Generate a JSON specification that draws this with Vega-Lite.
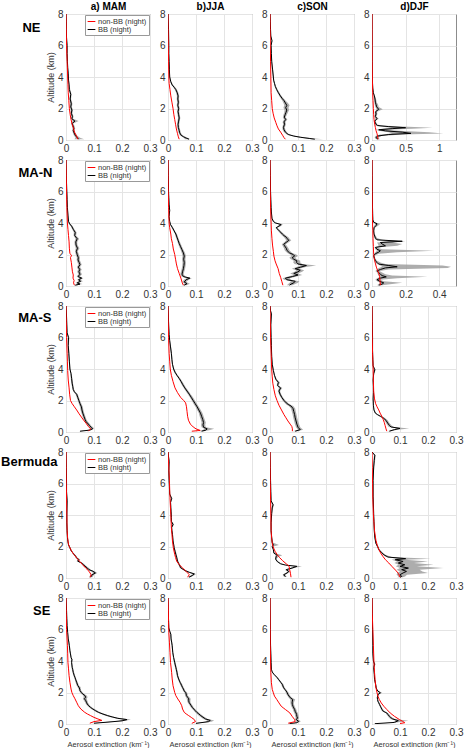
{
"$schema":"https://vega.github.io/schema/vega-lite/v6.json",
"background":"white",
"padding":{"left":0,"top":0,"right":0,"bottom":0},
"config":{
 "font":"Liberation Sans",
 "view":{"stroke":"#8c8c8c","strokeWidth":1},
 "axis":{"labelFontSize":10,"labelColor":"#333333","ticks":false,"domain":false,"gridColor":"#e4e4e4","gridWidth":1,"labelPadding":3,"titleFontWeight":"normal","titleColor":"#333333"},
 "axisX":{"labelFlush":false,"titleFontSize":7.5,"titlePadding":3},
 "axisY":{"titleFontSize":9,"titlePadding":2},
 "legend":{"orient":"top-right","offset":1,"symbolType":"stroke","symbolSize":60,"symbolStrokeWidth":1,"labelFontSize":7.5,"labelColor":"#333333","strokeColor":"#999999","fillColor":"#ffffff","padding":2,"rowPadding":0,"labelOffset":2,"labelLimit":120}
},
"bounds":"flush",
"columns":4,
"spacing":{"row":20,"column":18},
"resolve":{"scale":{"color":"independent"}},
"concat":[
 {"width":84,"height":126,
  "title":{"text":"NE","orient":"left","anchor":"end","frame":"group","angle":0,"align":"left","baseline":"top","fontSize":13,"fontWeight":"bold","color":"#000000","offset":6,"dy":8},
  "resolve":{"axis":{"x":"independent"}},
  "data":{"values":[
{"s":"B","a":0.05,"v":0.045,"l":0.03,"h":0.065},{"s":"B","a":0.15,"v":0.04,"l":0.034,"h":0.05},{"s":"B","a":0.3,"v":0.033,"l":0.028,"h":0.038},{"s":"B","a":0.45,"v":0.029,"l":0.025,"h":0.034},{"s":"B","a":0.6,"v":0.026,"l":0.022,"h":0.03},{"s":"B","a":0.75,"v":0.028,"l":0.023,"h":0.033},{"s":"B","a":0.9,"v":0.025,"l":0.021,"h":0.03},{"s":"B","a":1.05,"v":0.022,"l":0.018,"h":0.026},{"s":"B","a":1.2,"v":0.032,"l":0.024,"h":0.045},{"s":"B","a":1.35,"v":0.021,"l":0.017,"h":0.025},{"s":"B","a":1.5,"v":0.023,"l":0.019,"h":0.027},{"s":"B","a":1.7,"v":0.019,"l":0.016,"h":0.023},{"s":"B","a":1.9,"v":0.021,"l":0.017,"h":0.025},{"s":"B","a":2.1,"v":0.017,"l":0.014,"h":0.021},{"s":"B","a":2.3,"v":0.019,"l":0.015,"h":0.023},{"s":"B","a":2.6,"v":0.015,"l":0.012,"h":0.018},{"s":"B","a":2.9,"v":0.017,"l":0.014,"h":0.02},{"s":"B","a":3.2,"v":0.012,"l":0.01,"h":0.015},{"s":"B","a":3.5,"v":0.011,"l":0.009,"h":0.013},{"s":"B","a":3.8,"v":0.009,"l":0.007,"h":0.011},{"s":"B","a":4.2,"v":0.008,"l":0.006,"h":0.01},{"s":"B","a":4.6,"v":0.006,"l":0.005,"h":0.008},{"s":"B","a":5,"v":0.005,"l":0.004,"h":0.007},{"s":"B","a":5.5,"v":0.004,"l":0.003,"h":0.005},{"s":"B","a":6,"v":0.004,"l":0.003,"h":0.005},{"s":"B","a":6.5,"v":0.002,"l":0.001,"h":0.003},{"s":"B","a":7,"v":0.001,"l":0,"h":0.002},{"s":"B","a":7.5,"v":0.001,"l":0,"h":0.002},{"s":"B","a":8,"v":0,"l":0,"h":0.001},
{"s":"N","a":0.05,"v":0.042},{"s":"N","a":0.25,"v":0.038},{"s":"N","a":0.5,"v":0.03},{"s":"N","a":0.75,"v":0.027},{"s":"N","a":1,"v":0.022},{"s":"N","a":1.3,"v":0.018},{"s":"N","a":1.6,"v":0.015},{"s":"N","a":2,"v":0.012},{"s":"N","a":2.5,"v":0.01},{"s":"N","a":3,"v":0.008},{"s":"N","a":3.5,"v":0.007},{"s":"N","a":4,"v":0.006},{"s":"N","a":5,"v":0.004},{"s":"N","a":6,"v":0.002},{"s":"N","a":7,"v":0.001},{"s":"N","a":8,"v":0}
  ]},
  "encoding":{"y":{"field":"a","type":"quantitative","scale":{"domain":[0,8],"nice":false},"axis":{"tickCount":4,"title":"Altitude (km)"}}},
  "layer":[
   {"transform":[{"filter":"datum.s=='B'"}],"mark":{"type":"area","orient":"horizontal","color":"#999999","opacity":0.8,"clip":true},
    "encoding":{"x":{"field":"l","type":"quantitative","scale":{"domain":[0,0.3],"nice":false},"axis":{"tickCount":3,"format":"~g","title":null}},"x2":{"field":"h"}}},
   {"mark":{"type":"line","strokeWidth":1,"clip":true},
    "encoding":{"x":{"field":"v","type":"quantitative","scale":{"domain":[0,0.3],"nice":false},"axis":{"orient":"top","title":"a) MAM","labels":false,"grid":false,"titleFontSize":10,"titleFontWeight":"bold","titleColor":"#000000","titlePadding":3}},
     "color":{"field":"s","type":"nominal","scale":{"domain":["N","B"],"range":["#ff0000","#000000"]},"legend":{"title":null,"labelExpr":"datum.label=='N'?'non-BB (night)':'BB (night)'"}},
     "order":{"field":"a","type":"quantitative"}}}
  ]},
 {"width":84,"height":126,
  "resolve":{"axis":{"x":"independent"}},
  "data":{"values":[
{"s":"B","a":0.05,"v":0.075,"l":0.06,"h":0.08},{"s":"B","a":0.12,"v":0.065,"l":0.058,"h":0.072},{"s":"B","a":0.2,"v":0.056,"l":0.05,"h":0.062},{"s":"B","a":0.3,"v":0.047,"l":0.042,"h":0.052},{"s":"B","a":0.45,"v":0.042,"l":0.038,"h":0.046},{"s":"B","a":0.6,"v":0.04,"l":0.036,"h":0.044},{"s":"B","a":0.8,"v":0.037,"l":0.033,"h":0.041},{"s":"B","a":1,"v":0.036,"l":0.032,"h":0.04},{"s":"B","a":1.2,"v":0.038,"l":0.034,"h":0.042},{"s":"B","a":1.4,"v":0.04,"l":0.036,"h":0.044},{"s":"B","a":1.6,"v":0.038,"l":0.034,"h":0.042},{"s":"B","a":1.8,"v":0.036,"l":0.032,"h":0.04},{"s":"B","a":2,"v":0.038,"l":0.034,"h":0.042},{"s":"B","a":2.2,"v":0.035,"l":0.031,"h":0.039},{"s":"B","a":2.4,"v":0.037,"l":0.033,"h":0.041},{"s":"B","a":2.6,"v":0.035,"l":0.031,"h":0.039},{"s":"B","a":2.8,"v":0.036,"l":0.032,"h":0.04},{"s":"B","a":3,"v":0.033,"l":0.029,"h":0.037},{"s":"B","a":3.2,"v":0.028,"l":0.024,"h":0.032},{"s":"B","a":3.35,"v":0.022,"l":0.019,"h":0.026},{"s":"B","a":3.5,"v":0.015,"l":0.012,"h":0.018},{"s":"B","a":3.7,"v":0.01,"l":0.008,"h":0.012},{"s":"B","a":4,"v":0.006,"l":0.005,"h":0.008},{"s":"B","a":4.5,"v":0.005,"l":0.004,"h":0.006},{"s":"B","a":5,"v":0.004,"l":0.003,"h":0.005},{"s":"B","a":5.5,"v":0.003,"l":0.002,"h":0.004},{"s":"B","a":6,"v":0.003,"l":0.002,"h":0.004},{"s":"B","a":7,"v":0.002,"l":0.001,"h":0.003},{"s":"B","a":8,"v":0,"l":0,"h":0.001},
{"s":"N","a":0.05,"v":0.04},{"s":"N","a":0.2,"v":0.037},{"s":"N","a":0.4,"v":0.034},{"s":"N","a":0.7,"v":0.03},{"s":"N","a":1,"v":0.027},{"s":"N","a":1.3,"v":0.024},{"s":"N","a":1.6,"v":0.021},{"s":"N","a":2,"v":0.018},{"s":"N","a":2.4,"v":0.014},{"s":"N","a":2.8,"v":0.01},{"s":"N","a":3.2,"v":0.007},{"s":"N","a":3.6,"v":0.004},{"s":"N","a":4,"v":0.003},{"s":"N","a":5,"v":0.002},{"s":"N","a":6,"v":0.001},{"s":"N","a":8,"v":0}
  ]},
  "encoding":{"y":{"field":"a","type":"quantitative","scale":{"domain":[0,8],"nice":false},"axis":{"tickCount":4,"title":null}}},
  "layer":[
   {"transform":[{"filter":"datum.s=='B'"}],"mark":{"type":"area","orient":"horizontal","color":"#999999","opacity":0.8,"clip":true},
    "encoding":{"x":{"field":"l","type":"quantitative","scale":{"domain":[0,0.3],"nice":false},"axis":{"tickCount":3,"format":"~g","title":null}},"x2":{"field":"h"}}},
   {"mark":{"type":"line","strokeWidth":1,"clip":true},
    "encoding":{"x":{"field":"v","type":"quantitative","scale":{"domain":[0,0.3],"nice":false},"axis":{"orient":"top","title":"b)JJA","labels":false,"grid":false,"titleFontSize":10,"titleFontWeight":"bold","titleColor":"#000000","titlePadding":3}},
     "color":{"field":"s","type":"nominal","scale":{"domain":["N","B"],"range":["#ff0000","#000000"]},"legend":null},
     "order":{"field":"a","type":"quantitative"}}}
  ]},
 {"width":84,"height":126,
  "resolve":{"axis":{"x":"independent"}},
  "data":{"values":[
{"s":"B","a":0.05,"v":0.16,"l":0.15,"h":0.19},{"s":"B","a":0.1,"v":0.14,"l":0.13,"h":0.16},{"s":"B","a":0.17,"v":0.11,"l":0.1,"h":0.12},{"s":"B","a":0.25,"v":0.085,"l":0.078,"h":0.092},{"s":"B","a":0.35,"v":0.065,"l":0.06,"h":0.07},{"s":"B","a":0.5,"v":0.055,"l":0.05,"h":0.06},{"s":"B","a":0.65,"v":0.05,"l":0.045,"h":0.055},{"s":"B","a":0.8,"v":0.048,"l":0.044,"h":0.053},{"s":"B","a":1,"v":0.052,"l":0.047,"h":0.057},{"s":"B","a":1.15,"v":0.05,"l":0.045,"h":0.055},{"s":"B","a":1.3,"v":0.056,"l":0.05,"h":0.062},{"s":"B","a":1.45,"v":0.051,"l":0.046,"h":0.056},{"s":"B","a":1.6,"v":0.054,"l":0.048,"h":0.06},{"s":"B","a":1.75,"v":0.057,"l":0.051,"h":0.064},{"s":"B","a":1.9,"v":0.06,"l":0.052,"h":0.068},{"s":"B","a":2.05,"v":0.056,"l":0.048,"h":0.066},{"s":"B","a":2.2,"v":0.06,"l":0.051,"h":0.07},{"s":"B","a":2.35,"v":0.055,"l":0.048,"h":0.064},{"s":"B","a":2.5,"v":0.05,"l":0.044,"h":0.056},{"s":"B","a":2.65,"v":0.043,"l":0.038,"h":0.048},{"s":"B","a":2.8,"v":0.037,"l":0.033,"h":0.041},{"s":"B","a":3,"v":0.03,"l":0.027,"h":0.034},{"s":"B","a":3.2,"v":0.024,"l":0.021,"h":0.027},{"s":"B","a":3.4,"v":0.019,"l":0.017,"h":0.022},{"s":"B","a":3.6,"v":0.016,"l":0.014,"h":0.018},{"s":"B","a":3.8,"v":0.013,"l":0.011,"h":0.015},{"s":"B","a":4,"v":0.012,"l":0.01,"h":0.014},{"s":"B","a":4.5,"v":0.009,"l":0.007,"h":0.011},{"s":"B","a":5,"v":0.006,"l":0.005,"h":0.008},{"s":"B","a":5.5,"v":0.005,"l":0.004,"h":0.006},{"s":"B","a":6,"v":0.004,"l":0.003,"h":0.005},{"s":"B","a":6.3,"v":0.007,"l":0.005,"h":0.009},{"s":"B","a":6.6,"v":0.003,"l":0.002,"h":0.004},{"s":"B","a":7,"v":0.002,"l":0.001,"h":0.003},{"s":"B","a":7.5,"v":0.001,"l":0,"h":0.002},{"s":"B","a":8,"v":0,"l":0,"h":0.001},
{"s":"N","a":0.05,"v":0.055},{"s":"N","a":0.15,"v":0.05},{"s":"N","a":0.3,"v":0.045},{"s":"N","a":0.5,"v":0.038},{"s":"N","a":0.7,"v":0.03},{"s":"N","a":0.9,"v":0.025},{"s":"N","a":1.1,"v":0.021},{"s":"N","a":1.4,"v":0.015},{"s":"N","a":1.7,"v":0.011},{"s":"N","a":2,"v":0.008},{"s":"N","a":2.5,"v":0.006},{"s":"N","a":3,"v":0.004},{"s":"N","a":4,"v":0.003},{"s":"N","a":5,"v":0.002},{"s":"N","a":6,"v":0.001},{"s":"N","a":8,"v":0}
  ]},
  "encoding":{"y":{"field":"a","type":"quantitative","scale":{"domain":[0,8],"nice":false},"axis":{"tickCount":4,"title":null}}},
  "layer":[
   {"transform":[{"filter":"datum.s=='B'"}],"mark":{"type":"area","orient":"horizontal","color":"#999999","opacity":0.8,"clip":true},
    "encoding":{"x":{"field":"l","type":"quantitative","scale":{"domain":[0,0.3],"nice":false},"axis":{"tickCount":3,"format":"~g","title":null}},"x2":{"field":"h"}}},
   {"mark":{"type":"line","strokeWidth":1,"clip":true},
    "encoding":{"x":{"field":"v","type":"quantitative","scale":{"domain":[0,0.3],"nice":false},"axis":{"orient":"top","title":"c)SON","labels":false,"grid":false,"titleFontSize":10,"titleFontWeight":"bold","titleColor":"#000000","titlePadding":3}},
     "color":{"field":"s","type":"nominal","scale":{"domain":["N","B"],"range":["#ff0000","#000000"]},"legend":null},
     "order":{"field":"a","type":"quantitative"}}}
  ]},
 {"width":84,"height":126,
  "resolve":{"axis":{"x":"independent"}},
  "data":{"values":[
{"s":"B","a":0.05,"v":0.09,"l":0.06,"h":0.12},{"s":"B","a":0.15,"v":0.06,"l":0.04,"h":0.09},{"s":"B","a":0.25,"v":0.08,"l":0.05,"h":0.14},{"s":"B","a":0.35,"v":0.25,"l":0.12,"h":0.45},{"s":"B","a":0.42,"v":0.58,"l":0.3,"h":1.06},{"s":"B","a":0.5,"v":0.45,"l":0.25,"h":0.85},{"s":"B","a":0.58,"v":0.2,"l":0.1,"h":0.4},{"s":"B","a":0.65,"v":0.1,"l":0.06,"h":0.2},{"s":"B","a":0.72,"v":0.3,"l":0.15,"h":0.6},{"s":"B","a":0.78,"v":0.5,"l":0.3,"h":0.9},{"s":"B","a":0.85,"v":0.25,"l":0.12,"h":0.45},{"s":"B","a":0.92,"v":0.08,"l":0.05,"h":0.12},{"s":"B","a":1,"v":0.06,"l":0.04,"h":0.08},{"s":"B","a":1.1,"v":0.05,"l":0.035,"h":0.065},{"s":"B","a":1.2,"v":0.04,"l":0.03,"h":0.05},{"s":"B","a":1.35,"v":0.075,"l":0.05,"h":0.1},{"s":"B","a":1.5,"v":0.05,"l":0.035,"h":0.065},{"s":"B","a":1.65,"v":0.06,"l":0.045,"h":0.08},{"s":"B","a":1.8,"v":0.055,"l":0.04,"h":0.075},{"s":"B","a":1.95,"v":0.1,"l":0.07,"h":0.16},{"s":"B","a":2.1,"v":0.07,"l":0.05,"h":0.1},{"s":"B","a":2.25,"v":0.06,"l":0.04,"h":0.09},{"s":"B","a":2.4,"v":0.05,"l":0.035,"h":0.07},{"s":"B","a":2.6,"v":0.045,"l":0.03,"h":0.06},{"s":"B","a":2.8,"v":0.035,"l":0.025,"h":0.045},{"s":"B","a":3,"v":0.02,"l":0.015,"h":0.025},{"s":"B","a":3.3,"v":0.012,"l":0.009,"h":0.015},{"s":"B","a":3.6,"v":0.008,"l":0.006,"h":0.01},{"s":"B","a":4,"v":0.005,"l":0.004,"h":0.007},{"s":"B","a":5,"v":0.003,"l":0.002,"h":0.004},{"s":"B","a":6,"v":0.002,"l":0.001,"h":0.003},{"s":"B","a":7,"v":0.001,"l":0,"h":0.002},{"s":"B","a":8,"v":0,"l":0,"h":0.001},
{"s":"N","a":0.05,"v":0.09},{"s":"N","a":0.2,"v":0.085},{"s":"N","a":0.4,"v":0.075},{"s":"N","a":0.6,"v":0.06},{"s":"N","a":0.8,"v":0.05},{"s":"N","a":1,"v":0.04},{"s":"N","a":1.3,"v":0.03},{"s":"N","a":1.6,"v":0.025},{"s":"N","a":2,"v":0.02},{"s":"N","a":2.5,"v":0.015},{"s":"N","a":3,"v":0.01},{"s":"N","a":4,"v":0.005},{"s":"N","a":5,"v":0.003},{"s":"N","a":6,"v":0.002},{"s":"N","a":8,"v":0}
  ]},
  "encoding":{"y":{"field":"a","type":"quantitative","scale":{"domain":[0,8],"nice":false},"axis":{"tickCount":4,"title":null}}},
  "layer":[
   {"transform":[{"filter":"datum.s=='B'"}],"mark":{"type":"area","orient":"horizontal","color":"#999999","opacity":0.8,"clip":true},
    "encoding":{"x":{"field":"l","type":"quantitative","scale":{"domain":[0,1.25],"nice":false},"axis":{"tickCount":3,"format":"~g","title":null}},"x2":{"field":"h"}}},
   {"mark":{"type":"line","strokeWidth":1,"clip":true},
    "encoding":{"x":{"field":"v","type":"quantitative","scale":{"domain":[0,1.25],"nice":false},"axis":{"orient":"top","title":"d)DJF","labels":false,"grid":false,"titleFontSize":10,"titleFontWeight":"bold","titleColor":"#000000","titlePadding":3}},
     "color":{"field":"s","type":"nominal","scale":{"domain":["N","B"],"range":["#ff0000","#000000"]},"legend":null},
     "order":{"field":"a","type":"quantitative"}}}
  ]},
 {"width":84,"height":126,
  "title":{"text":"MA-N","orient":"left","anchor":"end","frame":"group","angle":0,"align":"left","baseline":"top","fontSize":13,"fontWeight":"bold","color":"#000000","offset":-6,"dy":7},
  "data":{"values":[
{"s":"B","a":0.05,"v":0.033,"l":0.028,"h":0.04},{"s":"B","a":0.12,"v":0.05,"l":0.04,"h":0.058},{"s":"B","a":0.2,"v":0.04,"l":0.034,"h":0.046},{"s":"B","a":0.3,"v":0.052,"l":0.045,"h":0.06},{"s":"B","a":0.4,"v":0.045,"l":0.04,"h":0.052},{"s":"B","a":0.5,"v":0.056,"l":0.048,"h":0.062},{"s":"B","a":0.6,"v":0.043,"l":0.038,"h":0.05},{"s":"B","a":0.75,"v":0.05,"l":0.044,"h":0.057},{"s":"B","a":0.9,"v":0.046,"l":0.04,"h":0.052},{"s":"B","a":1.05,"v":0.049,"l":0.043,"h":0.056},{"s":"B","a":1.2,"v":0.044,"l":0.039,"h":0.05},{"s":"B","a":1.35,"v":0.05,"l":0.044,"h":0.056},{"s":"B","a":1.5,"v":0.047,"l":0.041,"h":0.053},{"s":"B","a":1.65,"v":0.043,"l":0.038,"h":0.049},{"s":"B","a":1.8,"v":0.044,"l":0.039,"h":0.05},{"s":"B","a":2,"v":0.04,"l":0.035,"h":0.046},{"s":"B","a":2.2,"v":0.037,"l":0.032,"h":0.042},{"s":"B","a":2.4,"v":0.041,"l":0.035,"h":0.048},{"s":"B","a":2.6,"v":0.036,"l":0.031,"h":0.041},{"s":"B","a":2.8,"v":0.035,"l":0.03,"h":0.04},{"s":"B","a":3,"v":0.04,"l":0.034,"h":0.047},{"s":"B","a":3.2,"v":0.031,"l":0.027,"h":0.036},{"s":"B","a":3.4,"v":0.033,"l":0.028,"h":0.038},{"s":"B","a":3.6,"v":0.026,"l":0.022,"h":0.03},{"s":"B","a":3.8,"v":0.02,"l":0.017,"h":0.024},{"s":"B","a":3.95,"v":0.013,"l":0.01,"h":0.016},{"s":"B","a":4.1,"v":0.009,"l":0.007,"h":0.011},{"s":"B","a":4.5,"v":0.007,"l":0.005,"h":0.009},{"s":"B","a":5,"v":0.005,"l":0.004,"h":0.006},{"s":"B","a":5.5,"v":0.004,"l":0.003,"h":0.005},{"s":"B","a":6,"v":0.003,"l":0.002,"h":0.004},{"s":"B","a":6.5,"v":0.002,"l":0.001,"h":0.003},{"s":"B","a":7,"v":0.001,"l":0,"h":0.002},{"s":"B","a":8,"v":0,"l":0,"h":0.001},
{"s":"N","a":0.05,"v":0.03},{"s":"N","a":0.2,"v":0.027},{"s":"N","a":0.35,"v":0.029},{"s":"N","a":0.5,"v":0.025},{"s":"N","a":0.7,"v":0.026},{"s":"N","a":0.9,"v":0.023},{"s":"N","a":1.2,"v":0.021},{"s":"N","a":1.5,"v":0.019},{"s":"N","a":1.8,"v":0.016},{"s":"N","a":1.95,"v":0.02},{"s":"N","a":2.05,"v":0.014},{"s":"N","a":2.4,"v":0.012},{"s":"N","a":2.8,"v":0.011},{"s":"N","a":3.2,"v":0.009},{"s":"N","a":3.6,"v":0.007},{"s":"N","a":4,"v":0.005},{"s":"N","a":5,"v":0.003},{"s":"N","a":6,"v":0.002},{"s":"N","a":7,"v":0.001},{"s":"N","a":8,"v":0}
  ]},
  "encoding":{"y":{"field":"a","type":"quantitative","scale":{"domain":[0,8],"nice":false},"axis":{"tickCount":4,"title":"Altitude (km)"}}},
  "layer":[
   {"transform":[{"filter":"datum.s=='B'"}],"mark":{"type":"area","orient":"horizontal","color":"#999999","opacity":0.8,"clip":true},
    "encoding":{"x":{"field":"l","type":"quantitative","scale":{"domain":[0,0.3],"nice":false},"axis":{"tickCount":3,"format":"~g","title":null}},"x2":{"field":"h"}}},
   {"mark":{"type":"line","strokeWidth":1,"clip":true},
    "encoding":{"x":{"field":"v","type":"quantitative","scale":{"domain":[0,0.3],"nice":false},"axis":{"tickCount":3,"format":"~g","title":null}},
     "color":{"field":"s","type":"nominal","scale":{"domain":["N","B"],"range":["#ff0000","#000000"]},"legend":{"title":null,"labelExpr":"datum.label=='N'?'non-BB (night)':'BB (night)'"}},
     "order":{"field":"a","type":"quantitative"}}}
  ]},
 {"width":84,"height":126,
  "data":{"values":[
{"s":"B","a":0.05,"v":0.058,"l":0.05,"h":0.066},{"s":"B","a":0.15,"v":0.068,"l":0.06,"h":0.078},{"s":"B","a":0.25,"v":0.058,"l":0.051,"h":0.065},{"s":"B","a":0.4,"v":0.065,"l":0.057,"h":0.074},{"s":"B","a":0.5,"v":0.078,"l":0.066,"h":0.085},{"s":"B","a":0.6,"v":0.055,"l":0.048,"h":0.062},{"s":"B","a":0.75,"v":0.05,"l":0.044,"h":0.056},{"s":"B","a":0.9,"v":0.052,"l":0.046,"h":0.058},{"s":"B","a":1.1,"v":0.055,"l":0.049,"h":0.061},{"s":"B","a":1.3,"v":0.057,"l":0.051,"h":0.063},{"s":"B","a":1.5,"v":0.058,"l":0.052,"h":0.064},{"s":"B","a":1.7,"v":0.056,"l":0.05,"h":0.062},{"s":"B","a":1.9,"v":0.058,"l":0.052,"h":0.064},{"s":"B","a":2.1,"v":0.055,"l":0.049,"h":0.061},{"s":"B","a":2.3,"v":0.05,"l":0.045,"h":0.055},{"s":"B","a":2.5,"v":0.045,"l":0.04,"h":0.05},{"s":"B","a":2.7,"v":0.04,"l":0.036,"h":0.045},{"s":"B","a":2.9,"v":0.036,"l":0.032,"h":0.04},{"s":"B","a":3.1,"v":0.032,"l":0.028,"h":0.036},{"s":"B","a":3.3,"v":0.028,"l":0.025,"h":0.032},{"s":"B","a":3.5,"v":0.022,"l":0.019,"h":0.025},{"s":"B","a":3.7,"v":0.016,"l":0.013,"h":0.019},{"s":"B","a":3.9,"v":0.009,"l":0.007,"h":0.011},{"s":"B","a":4.1,"v":0.006,"l":0.005,"h":0.008},{"s":"B","a":4.4,"v":0.004,"l":0.003,"h":0.005},{"s":"B","a":4.8,"v":0.006,"l":0.004,"h":0.008},{"s":"B","a":5.2,"v":0.004,"l":0.003,"h":0.005},{"s":"B","a":5.6,"v":0.003,"l":0.002,"h":0.004},{"s":"B","a":6,"v":0.002,"l":0.001,"h":0.003},{"s":"B","a":7,"v":0.001,"l":0,"h":0.002},{"s":"B","a":8,"v":0,"l":0,"h":0.001},
{"s":"N","a":0.05,"v":0.055},{"s":"N","a":0.2,"v":0.051},{"s":"N","a":0.5,"v":0.046},{"s":"N","a":0.8,"v":0.04},{"s":"N","a":1.1,"v":0.034},{"s":"N","a":1.4,"v":0.03},{"s":"N","a":1.7,"v":0.027},{"s":"N","a":2,"v":0.024},{"s":"N","a":2.35,"v":0.019},{"s":"N","a":2.7,"v":0.016},{"s":"N","a":3,"v":0.012},{"s":"N","a":3.3,"v":0.01},{"s":"N","a":3.7,"v":0.006},{"s":"N","a":4,"v":0.004},{"s":"N","a":5,"v":0.002},{"s":"N","a":6,"v":0.001},{"s":"N","a":8,"v":0}
  ]},
  "encoding":{"y":{"field":"a","type":"quantitative","scale":{"domain":[0,8],"nice":false},"axis":{"tickCount":4,"title":null}}},
  "layer":[
   {"transform":[{"filter":"datum.s=='B'"}],"mark":{"type":"area","orient":"horizontal","color":"#999999","opacity":0.8,"clip":true},
    "encoding":{"x":{"field":"l","type":"quantitative","scale":{"domain":[0,0.3],"nice":false},"axis":{"tickCount":3,"format":"~g","title":null}},"x2":{"field":"h"}}},
   {"mark":{"type":"line","strokeWidth":1,"clip":true},
    "encoding":{"x":{"field":"v","type":"quantitative","scale":{"domain":[0,0.3],"nice":false},"axis":{"tickCount":3,"format":"~g","title":null}},
     "color":{"field":"s","type":"nominal","scale":{"domain":["N","B"],"range":["#ff0000","#000000"]},"legend":null},
     "order":{"field":"a","type":"quantitative"}}}
  ]},
 {"width":84,"height":126,
  "data":{"values":[
{"s":"B","a":0.05,"v":0.07,"l":0.06,"h":0.08},{"s":"B","a":0.12,"v":0.075,"l":0.065,"h":0.09},{"s":"B","a":0.2,"v":0.085,"l":0.07,"h":0.1},{"s":"B","a":0.3,"v":0.09,"l":0.075,"h":0.105},{"s":"B","a":0.4,"v":0.06,"l":0.05,"h":0.075},{"s":"B","a":0.5,"v":0.055,"l":0.045,"h":0.07},{"s":"B","a":0.6,"v":0.08,"l":0.065,"h":0.095},{"s":"B","a":0.7,"v":0.1,"l":0.085,"h":0.115},{"s":"B","a":0.8,"v":0.085,"l":0.072,"h":0.1},{"s":"B","a":0.9,"v":0.1,"l":0.088,"h":0.115},{"s":"B","a":1,"v":0.108,"l":0.094,"h":0.122},{"s":"B","a":1.1,"v":0.09,"l":0.078,"h":0.104},{"s":"B","a":1.2,"v":0.11,"l":0.095,"h":0.128},{"s":"B","a":1.3,"v":0.13,"l":0.11,"h":0.165},{"s":"B","a":1.4,"v":0.1,"l":0.088,"h":0.115},{"s":"B","a":1.5,"v":0.095,"l":0.083,"h":0.108},{"s":"B","a":1.6,"v":0.096,"l":0.085,"h":0.108},{"s":"B","a":1.7,"v":0.085,"l":0.075,"h":0.096},{"s":"B","a":1.8,"v":0.079,"l":0.069,"h":0.09},{"s":"B","a":1.9,"v":0.088,"l":0.077,"h":0.1},{"s":"B","a":2,"v":0.083,"l":0.072,"h":0.094},{"s":"B","a":2.1,"v":0.07,"l":0.062,"h":0.079},{"s":"B","a":2.25,"v":0.061,"l":0.053,"h":0.07},{"s":"B","a":2.4,"v":0.058,"l":0.05,"h":0.066},{"s":"B","a":2.55,"v":0.052,"l":0.045,"h":0.06},{"s":"B","a":2.65,"v":0.049,"l":0.042,"h":0.056},{"s":"B","a":2.8,"v":0.06,"l":0.052,"h":0.068},{"s":"B","a":2.9,"v":0.067,"l":0.058,"h":0.076},{"s":"B","a":3,"v":0.062,"l":0.054,"h":0.07},{"s":"B","a":3.1,"v":0.058,"l":0.05,"h":0.066},{"s":"B","a":3.2,"v":0.05,"l":0.043,"h":0.057},{"s":"B","a":3.3,"v":0.044,"l":0.038,"h":0.05},{"s":"B","a":3.45,"v":0.036,"l":0.031,"h":0.041},{"s":"B","a":3.6,"v":0.028,"l":0.024,"h":0.032},{"s":"B","a":3.7,"v":0.022,"l":0.019,"h":0.026},{"s":"B","a":3.8,"v":0.032,"l":0.027,"h":0.038},{"s":"B","a":3.9,"v":0.04,"l":0.033,"h":0.046},{"s":"B","a":4,"v":0.02,"l":0.016,"h":0.024},{"s":"B","a":4.1,"v":0.012,"l":0.01,"h":0.015},{"s":"B","a":4.3,"v":0.007,"l":0.005,"h":0.009},{"s":"B","a":4.7,"v":0.005,"l":0.004,"h":0.006},{"s":"B","a":5,"v":0.004,"l":0.003,"h":0.005},{"s":"B","a":5.5,"v":0.003,"l":0.002,"h":0.004},{"s":"B","a":6,"v":0.002,"l":0.001,"h":0.003},{"s":"B","a":7,"v":0.001,"l":0,"h":0.002},{"s":"B","a":8,"v":0,"l":0,"h":0.001},
{"s":"N","a":0.05,"v":0.046},{"s":"N","a":0.3,"v":0.042},{"s":"N","a":0.55,"v":0.038},{"s":"N","a":0.8,"v":0.033},{"s":"N","a":1.1,"v":0.029},{"s":"N","a":1.4,"v":0.022},{"s":"N","a":1.6,"v":0.018},{"s":"N","a":1.9,"v":0.014},{"s":"N","a":2.2,"v":0.012},{"s":"N","a":2.6,"v":0.009},{"s":"N","a":3,"v":0.007},{"s":"N","a":3.5,"v":0.005},{"s":"N","a":4,"v":0.004},{"s":"N","a":5,"v":0.002},{"s":"N","a":6,"v":0.001},{"s":"N","a":8,"v":0}
  ]},
  "encoding":{"y":{"field":"a","type":"quantitative","scale":{"domain":[0,8],"nice":false},"axis":{"tickCount":4,"title":null}}},
  "layer":[
   {"transform":[{"filter":"datum.s=='B'"}],"mark":{"type":"area","orient":"horizontal","color":"#999999","opacity":0.8,"clip":true},
    "encoding":{"x":{"field":"l","type":"quantitative","scale":{"domain":[0,0.3],"nice":false},"axis":{"tickCount":3,"format":"~g","title":null}},"x2":{"field":"h"}}},
   {"mark":{"type":"line","strokeWidth":1,"clip":true},
    "encoding":{"x":{"field":"v","type":"quantitative","scale":{"domain":[0,0.3],"nice":false},"axis":{"tickCount":3,"format":"~g","title":null}},
     "color":{"field":"s","type":"nominal","scale":{"domain":["N","B"],"range":["#ff0000","#000000"]},"legend":null},
     "order":{"field":"a","type":"quantitative"}}}
  ]},
 {"width":84,"height":126,
  "data":{"values":[
{"s":"B","a":0.05,"v":0.04,"l":0.03,"h":0.06},{"s":"B","a":0.12,"v":0.06,"l":0.04,"h":0.12},{"s":"B","a":0.2,"v":0.07,"l":0.05,"h":0.18},{"s":"B","a":0.3,"v":0.045,"l":0.03,"h":0.07},{"s":"B","a":0.4,"v":0.03,"l":0.02,"h":0.05},{"s":"B","a":0.5,"v":0.05,"l":0.03,"h":0.15},{"s":"B","a":0.58,"v":0.085,"l":0.05,"h":0.33},{"s":"B","a":0.66,"v":0.06,"l":0.04,"h":0.12},{"s":"B","a":0.75,"v":0.05,"l":0.035,"h":0.08},{"s":"B","a":0.85,"v":0.04,"l":0.03,"h":0.06},{"s":"B","a":0.96,"v":0.03,"l":0.02,"h":0.045},{"s":"B","a":1.05,"v":0.05,"l":0.03,"h":0.1},{"s":"B","a":1.15,"v":0.08,"l":0.04,"h":0.45},{"s":"B","a":1.22,"v":0.15,"l":0.06,"h":0.47},{"s":"B","a":1.3,"v":0.1,"l":0.05,"h":0.42},{"s":"B","a":1.39,"v":0.04,"l":0.03,"h":0.08},{"s":"B","a":1.5,"v":0.03,"l":0.02,"h":0.05},{"s":"B","a":1.6,"v":0.02,"l":0.015,"h":0.03},{"s":"B","a":1.75,"v":0.015,"l":0.01,"h":0.02},{"s":"B","a":1.92,"v":0.01,"l":0.007,"h":0.015},{"s":"B","a":2.05,"v":0.02,"l":0.012,"h":0.04},{"s":"B","a":2.15,"v":0.04,"l":0.02,"h":0.15},{"s":"B","a":2.24,"v":0.05,"l":0.03,"h":0.37},{"s":"B","a":2.33,"v":0.03,"l":0.02,"h":0.06},{"s":"B","a":2.45,"v":0.02,"l":0.015,"h":0.03},{"s":"B","a":2.55,"v":0.08,"l":0.04,"h":0.15},{"s":"B","a":2.67,"v":0.06,"l":0.035,"h":0.18},{"s":"B","a":2.76,"v":0.05,"l":0.03,"h":0.12},{"s":"B","a":2.84,"v":0.18,"l":0.1,"h":0.2},{"s":"B","a":2.93,"v":0.03,"l":0.02,"h":0.06},{"s":"B","a":3.05,"v":0.02,"l":0.015,"h":0.03},{"s":"B","a":3.3,"v":0.012,"l":0.008,"h":0.016},{"s":"B","a":3.5,"v":0.01,"l":0.007,"h":0.014},{"s":"B","a":3.7,"v":0.012,"l":0.008,"h":0.018},{"s":"B","a":3.85,"v":0.025,"l":0.015,"h":0.04},{"s":"B","a":3.95,"v":0.03,"l":0.02,"h":0.05},{"s":"B","a":4.05,"v":0.01,"l":0.006,"h":0.015},{"s":"B","a":4.2,"v":0.005,"l":0.003,"h":0.008},{"s":"B","a":4.6,"v":0.004,"l":0.003,"h":0.005},{"s":"B","a":5,"v":0.003,"l":0.002,"h":0.004},{"s":"B","a":6,"v":0.002,"l":0.001,"h":0.003},{"s":"B","a":7,"v":0.001,"l":0,"h":0.002},{"s":"B","a":8,"v":0,"l":0,"h":0.001},
{"s":"N","a":0.05,"v":0.05},{"s":"N","a":0.3,"v":0.048},{"s":"N","a":0.6,"v":0.045},{"s":"N","a":0.8,"v":0.04},{"s":"N","a":1,"v":0.033},{"s":"N","a":1.2,"v":0.026},{"s":"N","a":1.4,"v":0.021},{"s":"N","a":1.6,"v":0.016},{"s":"N","a":1.8,"v":0.012},{"s":"N","a":2,"v":0.01},{"s":"N","a":2.5,"v":0.008},{"s":"N","a":3,"v":0.006},{"s":"N","a":3.5,"v":0.005},{"s":"N","a":4,"v":0.003},{"s":"N","a":5,"v":0.002},{"s":"N","a":6,"v":0.001},{"s":"N","a":8,"v":0}
  ]},
  "encoding":{"y":{"field":"a","type":"quantitative","scale":{"domain":[0,8],"nice":false},"axis":{"tickCount":4,"title":null}}},
  "layer":[
   {"transform":[{"filter":"datum.s=='B'"}],"mark":{"type":"area","orient":"horizontal","color":"#999999","opacity":0.8,"clip":true},
    "encoding":{"x":{"field":"l","type":"quantitative","scale":{"domain":[0,0.5],"nice":false},"axis":{"tickCount":3,"format":"~g","title":null}},"x2":{"field":"h"}}},
   {"mark":{"type":"line","strokeWidth":1,"clip":true},
    "encoding":{"x":{"field":"v","type":"quantitative","scale":{"domain":[0,0.5],"nice":false},"axis":{"tickCount":3,"format":"~g","title":null}},
     "color":{"field":"s","type":"nominal","scale":{"domain":["N","B"],"range":["#ff0000","#000000"]},"legend":null},
     "order":{"field":"a","type":"quantitative"}}}
  ]},
 {"width":84,"height":126,
  "title":{"text":"MA-S","orient":"left","anchor":"end","frame":"group","angle":0,"align":"left","baseline":"top","fontSize":13,"fontWeight":"bold","color":"#000000","offset":-5,"dy":6},
  "data":{"values":[
{"s":"B","a":0.05,"v":0.05,"l":0.045,"h":0.055},{"s":"B","a":0.12,"v":0.085,"l":0.078,"h":0.092},{"s":"B","a":0.2,"v":0.095,"l":0.088,"h":0.1},{"s":"B","a":0.3,"v":0.09,"l":0.083,"h":0.097},{"s":"B","a":0.4,"v":0.084,"l":0.078,"h":0.09},{"s":"B","a":0.5,"v":0.08,"l":0.074,"h":0.086},{"s":"B","a":0.65,"v":0.072,"l":0.066,"h":0.078},{"s":"B","a":0.8,"v":0.068,"l":0.063,"h":0.073},{"s":"B","a":1,"v":0.064,"l":0.059,"h":0.069},{"s":"B","a":1.2,"v":0.06,"l":0.055,"h":0.065},{"s":"B","a":1.4,"v":0.057,"l":0.052,"h":0.062},{"s":"B","a":1.6,"v":0.055,"l":0.05,"h":0.06},{"s":"B","a":1.8,"v":0.05,"l":0.046,"h":0.055},{"s":"B","a":2,"v":0.046,"l":0.042,"h":0.05},{"s":"B","a":2.2,"v":0.042,"l":0.038,"h":0.046},{"s":"B","a":2.4,"v":0.038,"l":0.034,"h":0.042},{"s":"B","a":2.55,"v":0.03,"l":0.027,"h":0.033},{"s":"B","a":2.7,"v":0.026,"l":0.023,"h":0.029},{"s":"B","a":2.9,"v":0.024,"l":0.021,"h":0.027},{"s":"B","a":3.1,"v":0.022,"l":0.019,"h":0.025},{"s":"B","a":3.4,"v":0.02,"l":0.017,"h":0.023},{"s":"B","a":3.7,"v":0.018,"l":0.016,"h":0.02},{"s":"B","a":4,"v":0.014,"l":0.012,"h":0.016},{"s":"B","a":4.5,"v":0.012,"l":0.01,"h":0.014},{"s":"B","a":5,"v":0.01,"l":0.008,"h":0.012},{"s":"B","a":5.5,"v":0.008,"l":0.006,"h":0.01},{"s":"B","a":6,"v":0.009,"l":0.006,"h":0.012},{"s":"B","a":6.3,"v":0.004,"l":0.003,"h":0.005},{"s":"B","a":6.8,"v":0.003,"l":0.002,"h":0.004},{"s":"B","a":7.3,"v":0.002,"l":0.001,"h":0.003},{"s":"B","a":8,"v":0,"l":0,"h":0.001},
{"s":"N","a":0.05,"v":0.08},{"s":"N","a":0.2,"v":0.088},{"s":"N","a":0.35,"v":0.08},{"s":"N","a":0.55,"v":0.072},{"s":"N","a":0.75,"v":0.063},{"s":"N","a":0.95,"v":0.055},{"s":"N","a":1.15,"v":0.047},{"s":"N","a":1.4,"v":0.038},{"s":"N","a":1.6,"v":0.03},{"s":"N","a":1.8,"v":0.022},{"s":"N","a":2,"v":0.016},{"s":"N","a":2.4,"v":0.013},{"s":"N","a":2.8,"v":0.011},{"s":"N","a":3.3,"v":0.008},{"s":"N","a":3.9,"v":0.006},{"s":"N","a":4.5,"v":0.005},{"s":"N","a":5,"v":0.004},{"s":"N","a":6,"v":0.002},{"s":"N","a":7,"v":0.001},{"s":"N","a":8,"v":0}
  ]},
  "encoding":{"y":{"field":"a","type":"quantitative","scale":{"domain":[0,8],"nice":false},"axis":{"tickCount":4,"title":"Altitude (km)"}}},
  "layer":[
   {"transform":[{"filter":"datum.s=='B'"}],"mark":{"type":"area","orient":"horizontal","color":"#999999","opacity":0.8,"clip":true},
    "encoding":{"x":{"field":"l","type":"quantitative","scale":{"domain":[0,0.3],"nice":false},"axis":{"tickCount":3,"format":"~g","title":null}},"x2":{"field":"h"}}},
   {"mark":{"type":"line","strokeWidth":1,"clip":true},
    "encoding":{"x":{"field":"v","type":"quantitative","scale":{"domain":[0,0.3],"nice":false},"axis":{"tickCount":3,"format":"~g","title":null}},
     "color":{"field":"s","type":"nominal","scale":{"domain":["N","B"],"range":["#ff0000","#000000"]},"legend":{"title":null,"labelExpr":"datum.label=='N'?'non-BB (night)':'BB (night)'"}},
     "order":{"field":"a","type":"quantitative"}}}
  ]},
 {"width":84,"height":126,
  "data":{"values":[
{"s":"B","a":0.05,"v":0.12,"l":0.11,"h":0.13},{"s":"B","a":0.12,"v":0.135,"l":0.125,"h":0.15},{"s":"B","a":0.2,"v":0.14,"l":0.13,"h":0.165},{"s":"B","a":0.3,"v":0.127,"l":0.12,"h":0.135},{"s":"B","a":0.45,"v":0.125,"l":0.118,"h":0.133},{"s":"B","a":0.6,"v":0.127,"l":0.12,"h":0.135},{"s":"B","a":0.8,"v":0.124,"l":0.117,"h":0.131},{"s":"B","a":1,"v":0.12,"l":0.113,"h":0.127},{"s":"B","a":1.2,"v":0.116,"l":0.11,"h":0.123},{"s":"B","a":1.4,"v":0.11,"l":0.104,"h":0.117},{"s":"B","a":1.6,"v":0.104,"l":0.098,"h":0.11},{"s":"B","a":1.8,"v":0.097,"l":0.091,"h":0.103},{"s":"B","a":2,"v":0.09,"l":0.085,"h":0.096},{"s":"B","a":2.2,"v":0.083,"l":0.078,"h":0.089},{"s":"B","a":2.4,"v":0.076,"l":0.071,"h":0.081},{"s":"B","a":2.6,"v":0.068,"l":0.063,"h":0.073},{"s":"B","a":2.8,"v":0.06,"l":0.056,"h":0.065},{"s":"B","a":3,"v":0.053,"l":0.049,"h":0.058},{"s":"B","a":3.2,"v":0.047,"l":0.043,"h":0.051},{"s":"B","a":3.4,"v":0.04,"l":0.037,"h":0.044},{"s":"B","a":3.6,"v":0.032,"l":0.029,"h":0.035},{"s":"B","a":3.8,"v":0.025,"l":0.022,"h":0.028},{"s":"B","a":4,"v":0.02,"l":0.018,"h":0.023},{"s":"B","a":4.3,"v":0.016,"l":0.014,"h":0.018},{"s":"B","a":4.6,"v":0.014,"l":0.012,"h":0.016},{"s":"B","a":5,"v":0.012,"l":0.01,"h":0.014},{"s":"B","a":5.4,"v":0.009,"l":0.007,"h":0.011},{"s":"B","a":5.8,"v":0.006,"l":0.005,"h":0.008},{"s":"B","a":6.2,"v":0.004,"l":0.003,"h":0.005},{"s":"B","a":6.6,"v":0.003,"l":0.002,"h":0.004},{"s":"B","a":7,"v":0.002,"l":0.001,"h":0.003},{"s":"B","a":8,"v":0,"l":0,"h":0.001},
{"s":"N","a":0.05,"v":0.085},{"s":"N","a":0.1,"v":0.115},{"s":"N","a":0.2,"v":0.1},{"s":"N","a":0.32,"v":0.09},{"s":"N","a":0.5,"v":0.08},{"s":"N","a":0.75,"v":0.073},{"s":"N","a":1,"v":0.07},{"s":"N","a":1.3,"v":0.068},{"s":"N","a":1.6,"v":0.066},{"s":"N","a":1.85,"v":0.063},{"s":"N","a":2,"v":0.056},{"s":"N","a":2.2,"v":0.045},{"s":"N","a":2.5,"v":0.034},{"s":"N","a":2.8,"v":0.025},{"s":"N","a":3.2,"v":0.018},{"s":"N","a":3.6,"v":0.012},{"s":"N","a":4,"v":0.008},{"s":"N","a":4.5,"v":0.006},{"s":"N","a":5,"v":0.004},{"s":"N","a":6,"v":0.002},{"s":"N","a":7,"v":0.001},{"s":"N","a":8,"v":0}
  ]},
  "encoding":{"y":{"field":"a","type":"quantitative","scale":{"domain":[0,8],"nice":false},"axis":{"tickCount":4,"title":null}}},
  "layer":[
   {"transform":[{"filter":"datum.s=='B'"}],"mark":{"type":"area","orient":"horizontal","color":"#999999","opacity":0.8,"clip":true},
    "encoding":{"x":{"field":"l","type":"quantitative","scale":{"domain":[0,0.3],"nice":false},"axis":{"tickCount":3,"format":"~g","title":null}},"x2":{"field":"h"}}},
   {"mark":{"type":"line","strokeWidth":1,"clip":true},
    "encoding":{"x":{"field":"v","type":"quantitative","scale":{"domain":[0,0.3],"nice":false},"axis":{"tickCount":3,"format":"~g","title":null}},
     "color":{"field":"s","type":"nominal","scale":{"domain":["N","B"],"range":["#ff0000","#000000"]},"legend":null},
     "order":{"field":"a","type":"quantitative"}}}
  ]},
 {"width":84,"height":126,
  "data":{"values":[
{"s":"B","a":0.05,"v":0.09,"l":0.082,"h":0.098},{"s":"B","a":0.15,"v":0.108,"l":0.1,"h":0.118},{"s":"B","a":0.3,"v":0.1,"l":0.093,"h":0.108},{"s":"B","a":0.5,"v":0.096,"l":0.089,"h":0.104},{"s":"B","a":0.7,"v":0.093,"l":0.086,"h":0.1},{"s":"B","a":0.9,"v":0.09,"l":0.083,"h":0.097},{"s":"B","a":1.1,"v":0.088,"l":0.081,"h":0.095},{"s":"B","a":1.3,"v":0.085,"l":0.078,"h":0.092},{"s":"B","a":1.5,"v":0.082,"l":0.075,"h":0.09},{"s":"B","a":1.65,"v":0.075,"l":0.067,"h":0.083},{"s":"B","a":1.75,"v":0.065,"l":0.058,"h":0.072},{"s":"B","a":1.85,"v":0.058,"l":0.052,"h":0.064},{"s":"B","a":2,"v":0.05,"l":0.045,"h":0.055},{"s":"B","a":2.2,"v":0.042,"l":0.038,"h":0.046},{"s":"B","a":2.4,"v":0.036,"l":0.032,"h":0.04},{"s":"B","a":2.6,"v":0.032,"l":0.028,"h":0.036},{"s":"B","a":2.8,"v":0.038,"l":0.032,"h":0.044},{"s":"B","a":2.95,"v":0.027,"l":0.024,"h":0.03},{"s":"B","a":3.15,"v":0.03,"l":0.026,"h":0.036},{"s":"B","a":3.35,"v":0.021,"l":0.018,"h":0.024},{"s":"B","a":3.6,"v":0.016,"l":0.014,"h":0.018},{"s":"B","a":3.9,"v":0.012,"l":0.01,"h":0.014},{"s":"B","a":4.3,"v":0.008,"l":0.006,"h":0.01},{"s":"B","a":4.8,"v":0.006,"l":0.005,"h":0.008},{"s":"B","a":5.5,"v":0.005,"l":0.004,"h":0.006},{"s":"B","a":6,"v":0.004,"l":0.003,"h":0.005},{"s":"B","a":6.8,"v":0.003,"l":0.002,"h":0.004},{"s":"B","a":7.5,"v":0.005,"l":0.003,"h":0.007},{"s":"B","a":7.7,"v":0.002,"l":0.001,"h":0.003},{"s":"B","a":8,"v":0,"l":0,"h":0.001},
{"s":"N","a":0.05,"v":0.08},{"s":"N","a":0.2,"v":0.08},{"s":"N","a":0.35,"v":0.078},{"s":"N","a":0.5,"v":0.072},{"s":"N","a":0.7,"v":0.064},{"s":"N","a":0.9,"v":0.057},{"s":"N","a":1.1,"v":0.05},{"s":"N","a":1.4,"v":0.041},{"s":"N","a":1.7,"v":0.032},{"s":"N","a":2,"v":0.025},{"s":"N","a":2.3,"v":0.019},{"s":"N","a":2.7,"v":0.014},{"s":"N","a":3.1,"v":0.01},{"s":"N","a":3.5,"v":0.008},{"s":"N","a":4,"v":0.006},{"s":"N","a":4.5,"v":0.005},{"s":"N","a":5,"v":0.004},{"s":"N","a":6,"v":0.002},{"s":"N","a":7,"v":0.001},{"s":"N","a":8,"v":0}
  ]},
  "encoding":{"y":{"field":"a","type":"quantitative","scale":{"domain":[0,8],"nice":false},"axis":{"tickCount":4,"title":null}}},
  "layer":[
   {"transform":[{"filter":"datum.s=='B'"}],"mark":{"type":"area","orient":"horizontal","color":"#999999","opacity":0.8,"clip":true},
    "encoding":{"x":{"field":"l","type":"quantitative","scale":{"domain":[0,0.3],"nice":false},"axis":{"tickCount":3,"format":"~g","title":null}},"x2":{"field":"h"}}},
   {"mark":{"type":"line","strokeWidth":1,"clip":true},
    "encoding":{"x":{"field":"v","type":"quantitative","scale":{"domain":[0,0.3],"nice":false},"axis":{"tickCount":3,"format":"~g","title":null}},
     "color":{"field":"s","type":"nominal","scale":{"domain":["N","B"],"range":["#ff0000","#000000"]},"legend":null},
     "order":{"field":"a","type":"quantitative"}}}
  ]},
 {"width":84,"height":126,
  "data":{"values":[
{"s":"B","a":0.05,"v":0.062,"l":0.056,"h":0.068},{"s":"B","a":0.15,"v":0.08,"l":0.072,"h":0.09},{"s":"B","a":0.23,"v":0.1,"l":0.09,"h":0.133},{"s":"B","a":0.32,"v":0.068,"l":0.06,"h":0.078},{"s":"B","a":0.42,"v":0.062,"l":0.056,"h":0.07},{"s":"B","a":0.57,"v":0.056,"l":0.05,"h":0.062},{"s":"B","a":0.74,"v":0.05,"l":0.045,"h":0.056},{"s":"B","a":0.9,"v":0.04,"l":0.035,"h":0.045},{"s":"B","a":1,"v":0.03,"l":0.026,"h":0.034},{"s":"B","a":1.1,"v":0.02,"l":0.017,"h":0.023},{"s":"B","a":1.2,"v":0.012,"l":0.01,"h":0.014},{"s":"B","a":1.4,"v":0.007,"l":0.005,"h":0.009},{"s":"B","a":1.7,"v":0.005,"l":0.004,"h":0.006},{"s":"B","a":2.1,"v":0.004,"l":0.003,"h":0.005},{"s":"B","a":2.5,"v":0.005,"l":0.004,"h":0.006},{"s":"B","a":2.9,"v":0.005,"l":0.003,"h":0.007},{"s":"B","a":3.3,"v":0.004,"l":0.003,"h":0.005},{"s":"B","a":3.7,"v":0.006,"l":0.004,"h":0.008},{"s":"B","a":3.95,"v":0.01,"l":0.007,"h":0.013},{"s":"B","a":4.2,"v":0.004,"l":0.003,"h":0.005},{"s":"B","a":4.6,"v":0.003,"l":0.002,"h":0.004},{"s":"B","a":5.2,"v":0.002,"l":0.001,"h":0.003},{"s":"B","a":6,"v":0.002,"l":0.001,"h":0.003},{"s":"B","a":7,"v":0.001,"l":0,"h":0.002},{"s":"B","a":8,"v":0,"l":0,"h":0.001},
{"s":"N","a":0.05,"v":0.053},{"s":"N","a":0.2,"v":0.05},{"s":"N","a":0.4,"v":0.047},{"s":"N","a":0.6,"v":0.044},{"s":"N","a":0.8,"v":0.04},{"s":"N","a":1,"v":0.035},{"s":"N","a":1.2,"v":0.029},{"s":"N","a":1.4,"v":0.024},{"s":"N","a":1.6,"v":0.018},{"s":"N","a":1.8,"v":0.013},{"s":"N","a":2.1,"v":0.009},{"s":"N","a":2.6,"v":0.006},{"s":"N","a":3.2,"v":0.005},{"s":"N","a":4,"v":0.004},{"s":"N","a":5,"v":0.002},{"s":"N","a":6,"v":0.001},{"s":"N","a":8,"v":0}
  ]},
  "encoding":{"y":{"field":"a","type":"quantitative","scale":{"domain":[0,8],"nice":false},"axis":{"tickCount":4,"title":null}}},
  "layer":[
   {"transform":[{"filter":"datum.s=='B'"}],"mark":{"type":"area","orient":"horizontal","color":"#999999","opacity":0.8,"clip":true},
    "encoding":{"x":{"field":"l","type":"quantitative","scale":{"domain":[0,0.3],"nice":false},"axis":{"tickCount":3,"format":"~g","title":null}},"x2":{"field":"h"}}},
   {"mark":{"type":"line","strokeWidth":1,"clip":true},
    "encoding":{"x":{"field":"v","type":"quantitative","scale":{"domain":[0,0.3],"nice":false},"axis":{"tickCount":3,"format":"~g","title":null}},
     "color":{"field":"s","type":"nominal","scale":{"domain":["N","B"],"range":["#ff0000","#000000"]},"legend":null},
     "order":{"field":"a","type":"quantitative"}}}
  ]},
 {"width":84,"height":126,
  "title":{"text":"Bermuda","orient":"left","anchor":"end","frame":"group","angle":0,"align":"left","baseline":"top","fontSize":13,"fontWeight":"bold","color":"#000000","offset":-11,"dy":4},
  "data":{"values":[
{"s":"B","a":0.05,"v":0.088,"l":0.082,"h":0.094},{"s":"B","a":0.1,"v":0.09,"l":0.084,"h":0.096},{"s":"B","a":0.2,"v":0.093,"l":0.087,"h":0.1},{"s":"B","a":0.32,"v":0.105,"l":0.097,"h":0.112},{"s":"B","a":0.43,"v":0.096,"l":0.09,"h":0.102},{"s":"B","a":0.53,"v":0.082,"l":0.076,"h":0.088},{"s":"B","a":0.64,"v":0.076,"l":0.07,"h":0.082},{"s":"B","a":0.75,"v":0.068,"l":0.063,"h":0.073},{"s":"B","a":0.85,"v":0.062,"l":0.057,"h":0.067},{"s":"B","a":0.96,"v":0.055,"l":0.051,"h":0.06},{"s":"B","a":1.07,"v":0.042,"l":0.038,"h":0.047},{"s":"B","a":1.17,"v":0.046,"l":0.041,"h":0.051},{"s":"B","a":1.28,"v":0.038,"l":0.034,"h":0.042},{"s":"B","a":1.39,"v":0.034,"l":0.031,"h":0.037},{"s":"B","a":1.5,"v":0.029,"l":0.026,"h":0.032},{"s":"B","a":1.6,"v":0.024,"l":0.022,"h":0.027},{"s":"B","a":1.75,"v":0.018,"l":0.016,"h":0.02},{"s":"B","a":1.92,"v":0.014,"l":0.012,"h":0.016},{"s":"B","a":2.1,"v":0.009,"l":0.008,"h":0.011},{"s":"B","a":2.3,"v":0.007,"l":0.006,"h":0.008},{"s":"B","a":2.6,"v":0.005,"l":0.004,"h":0.006},{"s":"B","a":3,"v":0.004,"l":0.003,"h":0.005},{"s":"B","a":3.5,"v":0.003,"l":0.002,"h":0.004},{"s":"B","a":4,"v":0.003,"l":0.002,"h":0.004},{"s":"B","a":4.9,"v":0.004,"l":0.002,"h":0.006},{"s":"B","a":5.5,"v":0.002,"l":0.001,"h":0.003},{"s":"B","a":6,"v":0.002,"l":0.001,"h":0.003},{"s":"B","a":7,"v":0.001,"l":0,"h":0.002},{"s":"B","a":8,"v":0,"l":0,"h":0.001},
{"s":"N","a":0.05,"v":0.086},{"s":"N","a":0.2,"v":0.09},{"s":"N","a":0.43,"v":0.082},{"s":"N","a":0.64,"v":0.07},{"s":"N","a":0.85,"v":0.059},{"s":"N","a":1.07,"v":0.048},{"s":"N","a":1.28,"v":0.038},{"s":"N","a":1.5,"v":0.028},{"s":"N","a":1.7,"v":0.02},{"s":"N","a":1.92,"v":0.014},{"s":"N","a":2.13,"v":0.009},{"s":"N","a":2.5,"v":0.006},{"s":"N","a":3,"v":0.004},{"s":"N","a":4,"v":0.003},{"s":"N","a":5,"v":0.002},{"s":"N","a":6,"v":0.001},{"s":"N","a":8,"v":0}
  ]},
  "encoding":{"y":{"field":"a","type":"quantitative","scale":{"domain":[0,8],"nice":false},"axis":{"tickCount":4,"title":"Altitude (km)"}}},
  "layer":[
   {"transform":[{"filter":"datum.s=='B'"}],"mark":{"type":"area","orient":"horizontal","color":"#999999","opacity":0.8,"clip":true},
    "encoding":{"x":{"field":"l","type":"quantitative","scale":{"domain":[0,0.3],"nice":false},"axis":{"tickCount":3,"format":"~g","title":null}},"x2":{"field":"h"}}},
   {"mark":{"type":"line","strokeWidth":1,"clip":true},
    "encoding":{"x":{"field":"v","type":"quantitative","scale":{"domain":[0,0.3],"nice":false},"axis":{"tickCount":3,"format":"~g","title":null}},
     "color":{"field":"s","type":"nominal","scale":{"domain":["N","B"],"range":["#ff0000","#000000"]},"legend":{"title":null,"labelExpr":"datum.label=='N'?'non-BB (night)':'BB (night)'"}},
     "order":{"field":"a","type":"quantitative"}}}
  ]},
 {"width":84,"height":126,
  "data":{"values":[
{"s":"B","a":0.05,"v":0.075,"l":0.07,"h":0.08},{"s":"B","a":0.17,"v":0.088,"l":0.082,"h":0.094},{"s":"B","a":0.26,"v":0.094,"l":0.088,"h":0.1},{"s":"B","a":0.36,"v":0.076,"l":0.071,"h":0.081},{"s":"B","a":0.47,"v":0.061,"l":0.057,"h":0.066},{"s":"B","a":0.64,"v":0.046,"l":0.042,"h":0.05},{"s":"B","a":0.85,"v":0.04,"l":0.037,"h":0.043},{"s":"B","a":1.07,"v":0.034,"l":0.031,"h":0.037},{"s":"B","a":1.3,"v":0.031,"l":0.028,"h":0.034},{"s":"B","a":1.5,"v":0.028,"l":0.025,"h":0.031},{"s":"B","a":1.7,"v":0.025,"l":0.022,"h":0.028},{"s":"B","a":1.92,"v":0.022,"l":0.02,"h":0.024},{"s":"B","a":2.15,"v":0.02,"l":0.018,"h":0.022},{"s":"B","a":2.35,"v":0.018,"l":0.016,"h":0.02},{"s":"B","a":2.55,"v":0.017,"l":0.015,"h":0.019},{"s":"B","a":2.77,"v":0.016,"l":0.014,"h":0.018},{"s":"B","a":3,"v":0.014,"l":0.012,"h":0.016},{"s":"B","a":3.2,"v":0.013,"l":0.011,"h":0.015},{"s":"B","a":3.4,"v":0.018,"l":0.014,"h":0.022},{"s":"B","a":3.6,"v":0.012,"l":0.01,"h":0.014},{"s":"B","a":3.84,"v":0.012,"l":0.01,"h":0.014},{"s":"B","a":4.2,"v":0.011,"l":0.009,"h":0.013},{"s":"B","a":4.48,"v":0.01,"l":0.008,"h":0.012},{"s":"B","a":4.8,"v":0.009,"l":0.007,"h":0.011},{"s":"B","a":5.05,"v":0.013,"l":0.01,"h":0.016},{"s":"B","a":5.33,"v":0.006,"l":0.005,"h":0.007},{"s":"B","a":5.8,"v":0.005,"l":0.004,"h":0.006},{"s":"B","a":6.2,"v":0.004,"l":0.003,"h":0.005},{"s":"B","a":6.8,"v":0.003,"l":0.002,"h":0.004},{"s":"B","a":7.4,"v":0.004,"l":0.002,"h":0.006},{"s":"B","a":8,"v":0,"l":0,"h":0.001},
{"s":"N","a":0.05,"v":0.07},{"s":"N","a":0.21,"v":0.076},{"s":"N","a":0.43,"v":0.064},{"s":"N","a":0.64,"v":0.052},{"s":"N","a":0.85,"v":0.04},{"s":"N","a":1.07,"v":0.031},{"s":"N","a":1.3,"v":0.027},{"s":"N","a":1.5,"v":0.024},{"s":"N","a":1.92,"v":0.019},{"s":"N","a":2.35,"v":0.016},{"s":"N","a":2.8,"v":0.014},{"s":"N","a":3.2,"v":0.012},{"s":"N","a":4.05,"v":0.01},{"s":"N","a":5.1,"v":0.007},{"s":"N","a":6.2,"v":0.005},{"s":"N","a":7,"v":0.003},{"s":"N","a":8,"v":0}
  ]},
  "encoding":{"y":{"field":"a","type":"quantitative","scale":{"domain":[0,8],"nice":false},"axis":{"tickCount":4,"title":null}}},
  "layer":[
   {"transform":[{"filter":"datum.s=='B'"}],"mark":{"type":"area","orient":"horizontal","color":"#999999","opacity":0.8,"clip":true},
    "encoding":{"x":{"field":"l","type":"quantitative","scale":{"domain":[0,0.3],"nice":false},"axis":{"tickCount":3,"format":"~g","title":null}},"x2":{"field":"h"}}},
   {"mark":{"type":"line","strokeWidth":1,"clip":true},
    "encoding":{"x":{"field":"v","type":"quantitative","scale":{"domain":[0,0.3],"nice":false},"axis":{"tickCount":3,"format":"~g","title":null}},
     "color":{"field":"s","type":"nominal","scale":{"domain":["N","B"],"range":["#ff0000","#000000"]},"legend":null},
     "order":{"field":"a","type":"quantitative"}}}
  ]},
 {"width":84,"height":126,
  "data":{"values":[
{"s":"B","a":0.08,"v":0.055,"l":0.05,"h":0.06},{"s":"B","a":0.21,"v":0.049,"l":0.045,"h":0.054},{"s":"B","a":0.32,"v":0.061,"l":0.056,"h":0.066},{"s":"B","a":0.42,"v":0.067,"l":0.062,"h":0.072},{"s":"B","a":0.53,"v":0.058,"l":0.053,"h":0.063},{"s":"B","a":0.63,"v":0.079,"l":0.072,"h":0.086},{"s":"B","a":0.74,"v":0.096,"l":0.086,"h":0.114},{"s":"B","a":0.82,"v":0.055,"l":0.05,"h":0.06},{"s":"B","a":0.9,"v":0.038,"l":0.034,"h":0.042},{"s":"B","a":1.05,"v":0.026,"l":0.023,"h":0.029},{"s":"B","a":1.2,"v":0.02,"l":0.018,"h":0.023},{"s":"B","a":1.35,"v":0.022,"l":0.018,"h":0.03},{"s":"B","a":1.45,"v":0.026,"l":0.02,"h":0.044},{"s":"B","a":1.58,"v":0.014,"l":0.012,"h":0.016},{"s":"B","a":1.8,"v":0.012,"l":0.01,"h":0.014},{"s":"B","a":2,"v":0.008,"l":0.006,"h":0.012},{"s":"B","a":2.1,"v":0.012,"l":0.007,"h":0.032},{"s":"B","a":2.25,"v":0.008,"l":0.006,"h":0.01},{"s":"B","a":2.6,"v":0.006,"l":0.005,"h":0.007},{"s":"B","a":3,"v":0.004,"l":0.003,"h":0.005},{"s":"B","a":3.5,"v":0.004,"l":0.003,"h":0.005},{"s":"B","a":4.1,"v":0.006,"l":0.004,"h":0.008},{"s":"B","a":4.45,"v":0.008,"l":0.005,"h":0.011},{"s":"B","a":4.65,"v":0.011,"l":0.007,"h":0.014},{"s":"B","a":4.9,"v":0.004,"l":0.003,"h":0.005},{"s":"B","a":5.5,"v":0.003,"l":0.002,"h":0.004},{"s":"B","a":6.2,"v":0.002,"l":0.001,"h":0.003},{"s":"B","a":7,"v":0.001,"l":0,"h":0.002},{"s":"B","a":8,"v":0,"l":0,"h":0.001},
{"s":"N","a":0.05,"v":0.075},{"s":"N","a":0.3,"v":0.073},{"s":"N","a":0.55,"v":0.07},{"s":"N","a":0.75,"v":0.068},{"s":"N","a":0.9,"v":0.058},{"s":"N","a":1.1,"v":0.045},{"s":"N","a":1.3,"v":0.034},{"s":"N","a":1.5,"v":0.025},{"s":"N","a":1.7,"v":0.018},{"s":"N","a":1.9,"v":0.013},{"s":"N","a":2.1,"v":0.009},{"s":"N","a":2.5,"v":0.006},{"s":"N","a":3,"v":0.004},{"s":"N","a":4,"v":0.003},{"s":"N","a":5,"v":0.002},{"s":"N","a":6,"v":0.001},{"s":"N","a":8,"v":0}
  ]},
  "encoding":{"y":{"field":"a","type":"quantitative","scale":{"domain":[0,8],"nice":false},"axis":{"tickCount":4,"title":null}}},
  "layer":[
   {"transform":[{"filter":"datum.s=='B'"}],"mark":{"type":"area","orient":"horizontal","color":"#999999","opacity":0.8,"clip":true},
    "encoding":{"x":{"field":"l","type":"quantitative","scale":{"domain":[0,0.3],"nice":false},"axis":{"tickCount":3,"format":"~g","title":null}},"x2":{"field":"h"}}},
   {"mark":{"type":"line","strokeWidth":1,"clip":true},
    "encoding":{"x":{"field":"v","type":"quantitative","scale":{"domain":[0,0.3],"nice":false},"axis":{"tickCount":3,"format":"~g","title":null}},
     "color":{"field":"s","type":"nominal","scale":{"domain":["N","B"],"range":["#ff0000","#000000"]},"legend":null},
     "order":{"field":"a","type":"quantitative"}}}
  ]},
 {"width":84,"height":126,
  "data":{"values":[
{"s":"B","a":0.05,"v":0.1,"l":0.09,"h":0.11},{"s":"B","a":0.1,"v":0.106,"l":0.095,"h":0.118},{"s":"B","a":0.21,"v":0.1,"l":0.088,"h":0.125},{"s":"B","a":0.32,"v":0.111,"l":0.09,"h":0.2},{"s":"B","a":0.42,"v":0.123,"l":0.1,"h":0.18},{"s":"B","a":0.53,"v":0.106,"l":0.088,"h":0.17},{"s":"B","a":0.63,"v":0.13,"l":0.1,"h":0.255},{"s":"B","a":0.74,"v":0.1,"l":0.085,"h":0.16},{"s":"B","a":0.84,"v":0.117,"l":0.095,"h":0.22},{"s":"B","a":0.95,"v":0.094,"l":0.08,"h":0.15},{"s":"B","a":1.05,"v":0.111,"l":0.09,"h":0.2},{"s":"B","a":1.16,"v":0.083,"l":0.07,"h":0.12},{"s":"B","a":1.23,"v":0.12,"l":0.09,"h":0.21},{"s":"B","a":1.33,"v":0.057,"l":0.05,"h":0.07},{"s":"B","a":1.47,"v":0.043,"l":0.038,"h":0.048},{"s":"B","a":1.62,"v":0.034,"l":0.03,"h":0.038},{"s":"B","a":1.79,"v":0.025,"l":0.022,"h":0.028},{"s":"B","a":2,"v":0.02,"l":0.017,"h":0.023},{"s":"B","a":2.2,"v":0.014,"l":0.012,"h":0.016},{"s":"B","a":2.6,"v":0.01,"l":0.008,"h":0.012},{"s":"B","a":3,"v":0.008,"l":0.007,"h":0.009},{"s":"B","a":3.6,"v":0.007,"l":0.006,"h":0.008},{"s":"B","a":4.1,"v":0.006,"l":0.005,"h":0.007},{"s":"B","a":5.2,"v":0.004,"l":0.003,"h":0.005},{"s":"B","a":6.2,"v":0.004,"l":0.003,"h":0.005},{"s":"B","a":7.05,"v":0.006,"l":0.004,"h":0.008},{"s":"B","a":7.45,"v":0.008,"l":0.005,"h":0.011},{"s":"B","a":7.8,"v":0.01,"l":0.007,"h":0.013},{"s":"B","a":8,"v":0,"l":0,"h":0.001},
{"s":"N","a":0.05,"v":0.1},{"s":"N","a":0.3,"v":0.094},{"s":"N","a":0.5,"v":0.084},{"s":"N","a":0.74,"v":0.071},{"s":"N","a":0.95,"v":0.06},{"s":"N","a":1.16,"v":0.048},{"s":"N","a":1.37,"v":0.039},{"s":"N","a":1.58,"v":0.031},{"s":"N","a":1.79,"v":0.025},{"s":"N","a":2,"v":0.02},{"s":"N","a":2.4,"v":0.014},{"s":"N","a":3,"v":0.009},{"s":"N","a":4,"v":0.005},{"s":"N","a":5,"v":0.003},{"s":"N","a":6,"v":0.002},{"s":"N","a":7,"v":0.001},{"s":"N","a":8,"v":0}
  ]},
  "encoding":{"y":{"field":"a","type":"quantitative","scale":{"domain":[0,8],"nice":false},"axis":{"tickCount":4,"title":null}}},
  "layer":[
   {"transform":[{"filter":"datum.s=='B'"}],"mark":{"type":"area","orient":"horizontal","color":"#999999","opacity":0.8,"clip":true},
    "encoding":{"x":{"field":"l","type":"quantitative","scale":{"domain":[0,0.3],"nice":false},"axis":{"tickCount":3,"format":"~g","title":null}},"x2":{"field":"h"}}},
   {"mark":{"type":"line","strokeWidth":1,"clip":true},
    "encoding":{"x":{"field":"v","type":"quantitative","scale":{"domain":[0,0.3],"nice":false},"axis":{"tickCount":3,"format":"~g","title":null}},
     "color":{"field":"s","type":"nominal","scale":{"domain":["N","B"],"range":["#ff0000","#000000"]},"legend":null},
     "order":{"field":"a","type":"quantitative"}}}
  ]},
 {"width":84,"height":126,
  "title":{"text":"SE","orient":"left","anchor":"end","frame":"group","angle":0,"align":"left","baseline":"top","fontSize":13,"fontWeight":"bold","color":"#000000","offset":-4,"dy":7},
  "data":{"values":[
{"s":"B","a":0.05,"v":0.1,"l":0.09,"h":0.11},{"s":"B","a":0.12,"v":0.15,"l":0.14,"h":0.16},{"s":"B","a":0.2,"v":0.2,"l":0.188,"h":0.212},{"s":"B","a":0.28,"v":0.218,"l":0.205,"h":0.232},{"s":"B","a":0.36,"v":0.185,"l":0.175,"h":0.195},{"s":"B","a":0.45,"v":0.165,"l":0.156,"h":0.174},{"s":"B","a":0.53,"v":0.149,"l":0.141,"h":0.157},{"s":"B","a":0.63,"v":0.132,"l":0.125,"h":0.139},{"s":"B","a":0.74,"v":0.116,"l":0.11,"h":0.122},{"s":"B","a":0.85,"v":0.105,"l":0.099,"h":0.111},{"s":"B","a":0.95,"v":0.096,"l":0.09,"h":0.102},{"s":"B","a":1.05,"v":0.088,"l":0.083,"h":0.093},{"s":"B","a":1.16,"v":0.081,"l":0.076,"h":0.086},{"s":"B","a":1.27,"v":0.076,"l":0.071,"h":0.081},{"s":"B","a":1.38,"v":0.073,"l":0.068,"h":0.078},{"s":"B","a":1.5,"v":0.07,"l":0.064,"h":0.076},{"s":"B","a":1.6,"v":0.066,"l":0.06,"h":0.074},{"s":"B","a":1.7,"v":0.07,"l":0.063,"h":0.077},{"s":"B","a":1.8,"v":0.068,"l":0.062,"h":0.075},{"s":"B","a":1.9,"v":0.06,"l":0.055,"h":0.065},{"s":"B","a":2,"v":0.055,"l":0.05,"h":0.06},{"s":"B","a":2.12,"v":0.05,"l":0.046,"h":0.054},{"s":"B","a":2.22,"v":0.049,"l":0.045,"h":0.053},{"s":"B","a":2.35,"v":0.046,"l":0.041,"h":0.052},{"s":"B","a":2.45,"v":0.042,"l":0.038,"h":0.046},{"s":"B","a":2.65,"v":0.038,"l":0.034,"h":0.042},{"s":"B","a":2.8,"v":0.035,"l":0.032,"h":0.038},{"s":"B","a":2.96,"v":0.032,"l":0.029,"h":0.035},{"s":"B","a":3.1,"v":0.029,"l":0.026,"h":0.032},{"s":"B","a":3.28,"v":0.026,"l":0.023,"h":0.029},{"s":"B","a":3.45,"v":0.024,"l":0.021,"h":0.027},{"s":"B","a":3.6,"v":0.022,"l":0.02,"h":0.025},{"s":"B","a":3.9,"v":0.02,"l":0.018,"h":0.022},{"s":"B","a":4.1,"v":0.021,"l":0.018,"h":0.024},{"s":"B","a":4.23,"v":0.018,"l":0.016,"h":0.02},{"s":"B","a":4.45,"v":0.016,"l":0.014,"h":0.018},{"s":"B","a":4.65,"v":0.014,"l":0.012,"h":0.016},{"s":"B","a":4.97,"v":0.012,"l":0.01,"h":0.014},{"s":"B","a":5.2,"v":0.01,"l":0.008,"h":0.012},{"s":"B","a":5.4,"v":0.008,"l":0.007,"h":0.01},{"s":"B","a":5.82,"v":0.006,"l":0.005,"h":0.007},{"s":"B","a":6.24,"v":0.004,"l":0.003,"h":0.005},{"s":"B","a":6.7,"v":0.003,"l":0.002,"h":0.004},{"s":"B","a":7.2,"v":0.002,"l":0.001,"h":0.003},{"s":"B","a":8,"v":0,"l":0,"h":0.001},
{"s":"N","a":0.05,"v":0.085},{"s":"N","a":0.15,"v":0.1},{"s":"N","a":0.23,"v":0.128},{"s":"N","a":0.32,"v":0.114},{"s":"N","a":0.42,"v":0.1},{"s":"N","a":0.53,"v":0.088},{"s":"N","a":0.63,"v":0.077},{"s":"N","a":0.74,"v":0.067},{"s":"N","a":0.95,"v":0.053},{"s":"N","a":1.16,"v":0.044},{"s":"N","a":1.38,"v":0.038},{"s":"N","a":1.6,"v":0.032},{"s":"N","a":1.8,"v":0.026},{"s":"N","a":2,"v":0.021},{"s":"N","a":2.22,"v":0.018},{"s":"N","a":2.65,"v":0.014},{"s":"N","a":3.07,"v":0.011},{"s":"N","a":3.5,"v":0.009},{"s":"N","a":3.9,"v":0.007},{"s":"N","a":4.5,"v":0.006},{"s":"N","a":5,"v":0.005},{"s":"N","a":6,"v":0.002},{"s":"N","a":7,"v":0.001},{"s":"N","a":8,"v":0}
  ]},
  "encoding":{"y":{"field":"a","type":"quantitative","scale":{"domain":[0,8],"nice":false},"axis":{"tickCount":4,"title":"Altitude (km)"}}},
  "layer":[
   {"transform":[{"filter":"datum.s=='B'"}],"mark":{"type":"area","orient":"horizontal","color":"#999999","opacity":0.8,"clip":true},
    "encoding":{"x":{"field":"l","type":"quantitative","scale":{"domain":[0,0.3],"nice":false},"axis":{"tickCount":3,"format":"~g","title":"Aerosol extinction (km⁻¹)"}},"x2":{"field":"h"}}},
   {"mark":{"type":"line","strokeWidth":1,"clip":true},
    "encoding":{"x":{"field":"v","type":"quantitative","scale":{"domain":[0,0.3],"nice":false},"axis":{"tickCount":3,"format":"~g","title":"Aerosol extinction (km⁻¹)"}},
     "color":{"field":"s","type":"nominal","scale":{"domain":["N","B"],"range":["#ff0000","#000000"]},"legend":{"title":null,"labelExpr":"datum.label=='N'?'non-BB (night)':'BB (night)'"}},
     "order":{"field":"a","type":"quantitative"}}}
  ]},
 {"width":84,"height":126,
  "data":{"values":[
{"s":"B","a":0.04,"v":0.1,"l":0.09,"h":0.11},{"s":"B","a":0.15,"v":0.145,"l":0.135,"h":0.155},{"s":"B","a":0.23,"v":0.151,"l":0.14,"h":0.165},{"s":"B","a":0.32,"v":0.134,"l":0.126,"h":0.142},{"s":"B","a":0.43,"v":0.125,"l":0.118,"h":0.132},{"s":"B","a":0.53,"v":0.117,"l":0.11,"h":0.124},{"s":"B","a":0.64,"v":0.11,"l":0.104,"h":0.116},{"s":"B","a":0.74,"v":0.103,"l":0.097,"h":0.109},{"s":"B","a":0.85,"v":0.097,"l":0.092,"h":0.102},{"s":"B","a":0.95,"v":0.092,"l":0.087,"h":0.097},{"s":"B","a":1.05,"v":0.087,"l":0.082,"h":0.092},{"s":"B","a":1.16,"v":0.083,"l":0.078,"h":0.088},{"s":"B","a":1.27,"v":0.079,"l":0.074,"h":0.084},{"s":"B","a":1.38,"v":0.075,"l":0.07,"h":0.08},{"s":"B","a":1.5,"v":0.074,"l":0.068,"h":0.08},{"s":"B","a":1.6,"v":0.074,"l":0.067,"h":0.081},{"s":"B","a":1.7,"v":0.07,"l":0.064,"h":0.076},{"s":"B","a":1.8,"v":0.066,"l":0.061,"h":0.071},{"s":"B","a":1.9,"v":0.065,"l":0.06,"h":0.07},{"s":"B","a":2,"v":0.063,"l":0.058,"h":0.068},{"s":"B","a":2.1,"v":0.058,"l":0.054,"h":0.062},{"s":"B","a":2.22,"v":0.055,"l":0.051,"h":0.059},{"s":"B","a":2.32,"v":0.052,"l":0.048,"h":0.056},{"s":"B","a":2.43,"v":0.049,"l":0.045,"h":0.053},{"s":"B","a":2.55,"v":0.046,"l":0.042,"h":0.05},{"s":"B","a":2.65,"v":0.043,"l":0.04,"h":0.046},{"s":"B","a":2.86,"v":0.038,"l":0.035,"h":0.041},{"s":"B","a":3.07,"v":0.034,"l":0.031,"h":0.037},{"s":"B","a":3.28,"v":0.032,"l":0.029,"h":0.035},{"s":"B","a":3.45,"v":0.03,"l":0.027,"h":0.033},{"s":"B","a":3.6,"v":0.028,"l":0.025,"h":0.031},{"s":"B","a":3.75,"v":0.026,"l":0.023,"h":0.029},{"s":"B","a":3.9,"v":0.024,"l":0.021,"h":0.027},{"s":"B","a":4.23,"v":0.02,"l":0.018,"h":0.022},{"s":"B","a":4.55,"v":0.017,"l":0.015,"h":0.019},{"s":"B","a":4.97,"v":0.015,"l":0.013,"h":0.017},{"s":"B","a":5.2,"v":0.013,"l":0.011,"h":0.015},{"s":"B","a":5.4,"v":0.011,"l":0.009,"h":0.013},{"s":"B","a":5.7,"v":0.01,"l":0.008,"h":0.012},{"s":"B","a":5.9,"v":0.006,"l":0.005,"h":0.008},{"s":"B","a":6.1,"v":0.003,"l":0.002,"h":0.004},{"s":"B","a":6.6,"v":0.002,"l":0.001,"h":0.003},{"s":"B","a":7.2,"v":0.001,"l":0,"h":0.002},{"s":"B","a":8,"v":0,"l":0,"h":0.001},
{"s":"N","a":0.04,"v":0.085},{"s":"N","a":0.15,"v":0.098},{"s":"N","a":0.28,"v":0.094},{"s":"N","a":0.42,"v":0.083},{"s":"N","a":0.53,"v":0.074},{"s":"N","a":0.64,"v":0.065},{"s":"N","a":0.74,"v":0.058},{"s":"N","a":0.95,"v":0.052},{"s":"N","a":1.16,"v":0.049},{"s":"N","a":1.38,"v":0.043},{"s":"N","a":1.59,"v":0.035},{"s":"N","a":1.8,"v":0.028},{"s":"N","a":2,"v":0.024},{"s":"N","a":2.43,"v":0.018},{"s":"N","a":2.86,"v":0.015},{"s":"N","a":3.28,"v":0.013},{"s":"N","a":3.9,"v":0.009},{"s":"N","a":4.55,"v":0.007},{"s":"N","a":5.2,"v":0.005},{"s":"N","a":5.8,"v":0.003},{"s":"N","a":6.5,"v":0.002},{"s":"N","a":7.5,"v":0.001},{"s":"N","a":8,"v":0}
  ]},
  "encoding":{"y":{"field":"a","type":"quantitative","scale":{"domain":[0,8],"nice":false},"axis":{"tickCount":4,"title":null}}},
  "layer":[
   {"transform":[{"filter":"datum.s=='B'"}],"mark":{"type":"area","orient":"horizontal","color":"#999999","opacity":0.8,"clip":true},
    "encoding":{"x":{"field":"l","type":"quantitative","scale":{"domain":[0,0.3],"nice":false},"axis":{"tickCount":3,"format":"~g","title":"Aerosol extinction (km⁻¹)"}},"x2":{"field":"h"}}},
   {"mark":{"type":"line","strokeWidth":1,"clip":true},
    "encoding":{"x":{"field":"v","type":"quantitative","scale":{"domain":[0,0.3],"nice":false},"axis":{"tickCount":3,"format":"~g","title":"Aerosol extinction (km⁻¹)"}},
     "color":{"field":"s","type":"nominal","scale":{"domain":["N","B"],"range":["#ff0000","#000000"]},"legend":null},
     "order":{"field":"a","type":"quantitative"}}}
  ]},
 {"width":84,"height":126,
  "data":{"values":[
{"s":"B","a":0.03,"v":0.07,"l":0.065,"h":0.075},{"s":"B","a":0.08,"v":0.096,"l":0.09,"h":0.102},{"s":"B","a":0.17,"v":0.102,"l":0.095,"h":0.11},{"s":"B","a":0.28,"v":0.094,"l":0.088,"h":0.1},{"s":"B","a":0.38,"v":0.098,"l":0.092,"h":0.104},{"s":"B","a":0.49,"v":0.096,"l":0.09,"h":0.102},{"s":"B","a":0.6,"v":0.095,"l":0.089,"h":0.101},{"s":"B","a":0.7,"v":0.093,"l":0.087,"h":0.099},{"s":"B","a":0.8,"v":0.09,"l":0.084,"h":0.096},{"s":"B","a":0.92,"v":0.088,"l":0.082,"h":0.094},{"s":"B","a":1.02,"v":0.085,"l":0.079,"h":0.091},{"s":"B","a":1.13,"v":0.082,"l":0.076,"h":0.088},{"s":"B","a":1.24,"v":0.08,"l":0.074,"h":0.086},{"s":"B","a":1.34,"v":0.079,"l":0.073,"h":0.085},{"s":"B","a":1.45,"v":0.08,"l":0.073,"h":0.087},{"s":"B","a":1.56,"v":0.081,"l":0.073,"h":0.09},{"s":"B","a":1.66,"v":0.073,"l":0.067,"h":0.079},{"s":"B","a":1.77,"v":0.068,"l":0.063,"h":0.073},{"s":"B","a":1.88,"v":0.064,"l":0.059,"h":0.069},{"s":"B","a":2,"v":0.061,"l":0.056,"h":0.066},{"s":"B","a":2.09,"v":0.058,"l":0.054,"h":0.062},{"s":"B","a":2.2,"v":0.053,"l":0.049,"h":0.057},{"s":"B","a":2.3,"v":0.049,"l":0.045,"h":0.053},{"s":"B","a":2.42,"v":0.046,"l":0.042,"h":0.05},{"s":"B","a":2.52,"v":0.044,"l":0.04,"h":0.048},{"s":"B","a":2.63,"v":0.039,"l":0.036,"h":0.042},{"s":"B","a":2.73,"v":0.035,"l":0.032,"h":0.038},{"s":"B","a":2.84,"v":0.03,"l":0.027,"h":0.033},{"s":"B","a":2.94,"v":0.026,"l":0.023,"h":0.029},{"s":"B","a":3.05,"v":0.02,"l":0.018,"h":0.022},{"s":"B","a":3.16,"v":0.014,"l":0.012,"h":0.016},{"s":"B","a":3.3,"v":0.008,"l":0.007,"h":0.009},{"s":"B","a":3.48,"v":0.005,"l":0.004,"h":0.006},{"s":"B","a":3.9,"v":0.004,"l":0.003,"h":0.005},{"s":"B","a":4.5,"v":0.003,"l":0.002,"h":0.004},{"s":"B","a":5,"v":0.002,"l":0.001,"h":0.003},{"s":"B","a":6,"v":0.001,"l":0,"h":0.002},{"s":"B","a":8,"v":0,"l":0,"h":0.001},
{"s":"N","a":0.05,"v":0.065},{"s":"N","a":0.15,"v":0.09},{"s":"N","a":0.28,"v":0.088},{"s":"N","a":0.49,"v":0.079},{"s":"N","a":0.7,"v":0.071},{"s":"N","a":0.8,"v":0.064},{"s":"N","a":0.92,"v":0.055},{"s":"N","a":1.03,"v":0.047},{"s":"N","a":1.13,"v":0.04},{"s":"N","a":1.34,"v":0.032},{"s":"N","a":1.56,"v":0.024},{"s":"N","a":1.77,"v":0.016},{"s":"N","a":1.98,"v":0.012},{"s":"N","a":2.2,"v":0.008},{"s":"N","a":2.62,"v":0.005},{"s":"N","a":3.26,"v":0.003},{"s":"N","a":4,"v":0.002},{"s":"N","a":5,"v":0.001},{"s":"N","a":8,"v":0}
  ]},
  "encoding":{"y":{"field":"a","type":"quantitative","scale":{"domain":[0,8],"nice":false},"axis":{"tickCount":4,"title":null}}},
  "layer":[
   {"transform":[{"filter":"datum.s=='B'"}],"mark":{"type":"area","orient":"horizontal","color":"#999999","opacity":0.8,"clip":true},
    "encoding":{"x":{"field":"l","type":"quantitative","scale":{"domain":[0,0.3],"nice":false},"axis":{"tickCount":3,"format":"~g","title":"Aerosol extinction (km⁻¹)"}},"x2":{"field":"h"}}},
   {"mark":{"type":"line","strokeWidth":1,"clip":true},
    "encoding":{"x":{"field":"v","type":"quantitative","scale":{"domain":[0,0.3],"nice":false},"axis":{"tickCount":3,"format":"~g","title":"Aerosol extinction (km⁻¹)"}},
     "color":{"field":"s","type":"nominal","scale":{"domain":["N","B"],"range":["#ff0000","#000000"]},"legend":null},
     "order":{"field":"a","type":"quantitative"}}}
  ]},
 {"width":84,"height":126,
  "data":{"values":[
{"s":"B","a":0.02,"v":0.01,"l":0.008,"h":0.012},{"s":"B","a":0.1,"v":0.08,"l":0.072,"h":0.088},{"s":"B","a":0.21,"v":0.094,"l":0.085,"h":0.13},{"s":"B","a":0.32,"v":0.074,"l":0.066,"h":0.082},{"s":"B","a":0.42,"v":0.066,"l":0.06,"h":0.072},{"s":"B","a":0.49,"v":0.062,"l":0.057,"h":0.067},{"s":"B","a":0.6,"v":0.057,"l":0.052,"h":0.062},{"s":"B","a":0.7,"v":0.053,"l":0.049,"h":0.057},{"s":"B","a":0.81,"v":0.04,"l":0.036,"h":0.044},{"s":"B","a":0.92,"v":0.036,"l":0.032,"h":0.04},{"s":"B","a":1.02,"v":0.033,"l":0.03,"h":0.036},{"s":"B","a":1.13,"v":0.03,"l":0.027,"h":0.033},{"s":"B","a":1.24,"v":0.027,"l":0.024,"h":0.03},{"s":"B","a":1.35,"v":0.024,"l":0.021,"h":0.027},{"s":"B","a":1.45,"v":0.021,"l":0.019,"h":0.024},{"s":"B","a":1.56,"v":0.02,"l":0.018,"h":0.022},{"s":"B","a":1.66,"v":0.019,"l":0.017,"h":0.021},{"s":"B","a":1.78,"v":0.02,"l":0.018,"h":0.022},{"s":"B","a":1.88,"v":0.022,"l":0.019,"h":0.025},{"s":"B","a":1.98,"v":0.03,"l":0.025,"h":0.036},{"s":"B","a":2.09,"v":0.021,"l":0.018,"h":0.024},{"s":"B","a":2.2,"v":0.017,"l":0.015,"h":0.019},{"s":"B","a":2.3,"v":0.015,"l":0.013,"h":0.017},{"s":"B","a":2.52,"v":0.013,"l":0.011,"h":0.015},{"s":"B","a":2.84,"v":0.009,"l":0.008,"h":0.011},{"s":"B","a":3.16,"v":0.008,"l":0.007,"h":0.009},{"s":"B","a":3.58,"v":0.006,"l":0.005,"h":0.007},{"s":"B","a":3.8,"v":0.009,"l":0.006,"h":0.013},{"s":"B","a":4,"v":0.005,"l":0.004,"h":0.006},{"s":"B","a":4.5,"v":0.003,"l":0.002,"h":0.004},{"s":"B","a":5,"v":0.003,"l":0.002,"h":0.004},{"s":"B","a":6,"v":0.002,"l":0.001,"h":0.003},{"s":"B","a":7,"v":0.001,"l":0,"h":0.002},{"s":"B","a":8,"v":0,"l":0,"h":0.001},
{"s":"N","a":0.03,"v":0.1},{"s":"N","a":0.08,"v":0.117},{"s":"N","a":0.17,"v":0.109},{"s":"N","a":0.28,"v":0.098},{"s":"N","a":0.49,"v":0.08},{"s":"N","a":0.7,"v":0.065},{"s":"N","a":0.92,"v":0.053},{"s":"N","a":1.13,"v":0.042},{"s":"N","a":1.34,"v":0.033},{"s":"N","a":1.56,"v":0.026},{"s":"N","a":1.77,"v":0.021},{"s":"N","a":1.98,"v":0.018},{"s":"N","a":2.41,"v":0.013},{"s":"N","a":2.84,"v":0.011},{"s":"N","a":3.26,"v":0.009},{"s":"N","a":3.9,"v":0.007},{"s":"N","a":4.97,"v":0.005},{"s":"N","a":6,"v":0.003},{"s":"N","a":7,"v":0.001},{"s":"N","a":8,"v":0}
  ]},
  "encoding":{"y":{"field":"a","type":"quantitative","scale":{"domain":[0,8],"nice":false},"axis":{"tickCount":4,"title":null}}},
  "layer":[
   {"transform":[{"filter":"datum.s=='B'"}],"mark":{"type":"area","orient":"horizontal","color":"#999999","opacity":0.8,"clip":true},
    "encoding":{"x":{"field":"l","type":"quantitative","scale":{"domain":[0,0.3],"nice":false},"axis":{"tickCount":3,"format":"~g","title":"Aerosol extinction (km⁻¹)"}},"x2":{"field":"h"}}},
   {"mark":{"type":"line","strokeWidth":1,"clip":true},
    "encoding":{"x":{"field":"v","type":"quantitative","scale":{"domain":[0,0.3],"nice":false},"axis":{"tickCount":3,"format":"~g","title":"Aerosol extinction (km⁻¹)"}},
     "color":{"field":"s","type":"nominal","scale":{"domain":["N","B"],"range":["#ff0000","#000000"]},"legend":null},
     "order":{"field":"a","type":"quantitative"}}}
  ]}
]
}
